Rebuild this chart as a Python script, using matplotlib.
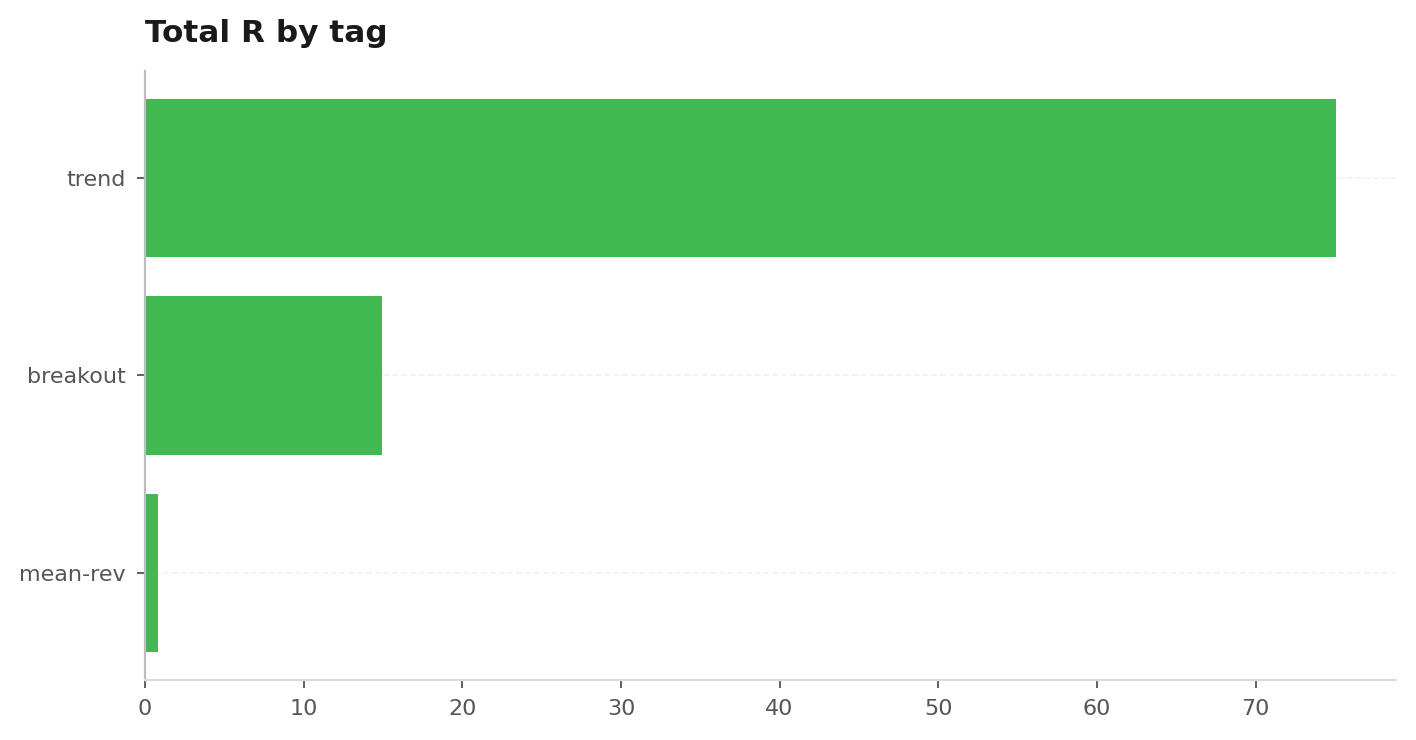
import matplotlib.pyplot as plt

# Total R per tag (top to bottom)
tags = ['trend', 'breakout', 'mean-rev']
total_r = [75.1, 14.95, 0.82]

BAR_COLOR = '#41b953'

fig = plt.figure(figsize=(7.08, 3.7), dpi=200)
ax = fig.add_axes([0.1024, 0.0811, 0.8835, 0.8230])

ax.barh(tags, total_r, height=0.8, color=BAR_COLOR, zorder=2)
ax.invert_yaxis()

ax.set_title('Total R by tag', loc='left', fontsize=11.2, fontweight='bold',
             color='#1a1a1a', pad=10.5)

# grid only along categories
ax.grid(axis='y', linestyle='--', color='#f2f2f2', linewidth=0.6, zorder=0)
ax.grid(axis='x', visible=False)
ax.set_axisbelow(True)

for side in ['top', 'right']:
    ax.spines[side].set_visible(False)
ax.spines['left'].set_color('#bdbdbd')
ax.spines['left'].set_linewidth(0.8)
ax.spines['bottom'].set_color('#dcdcdc')
ax.spines['bottom'].set_linewidth(0.8)

ax.tick_params(axis='both', labelsize=8, labelcolor='#555555', color='#444444',
               length=2.8, width=0.6, pad=4.2)

fig.savefig('out.png', dpi=200, facecolor='white')
